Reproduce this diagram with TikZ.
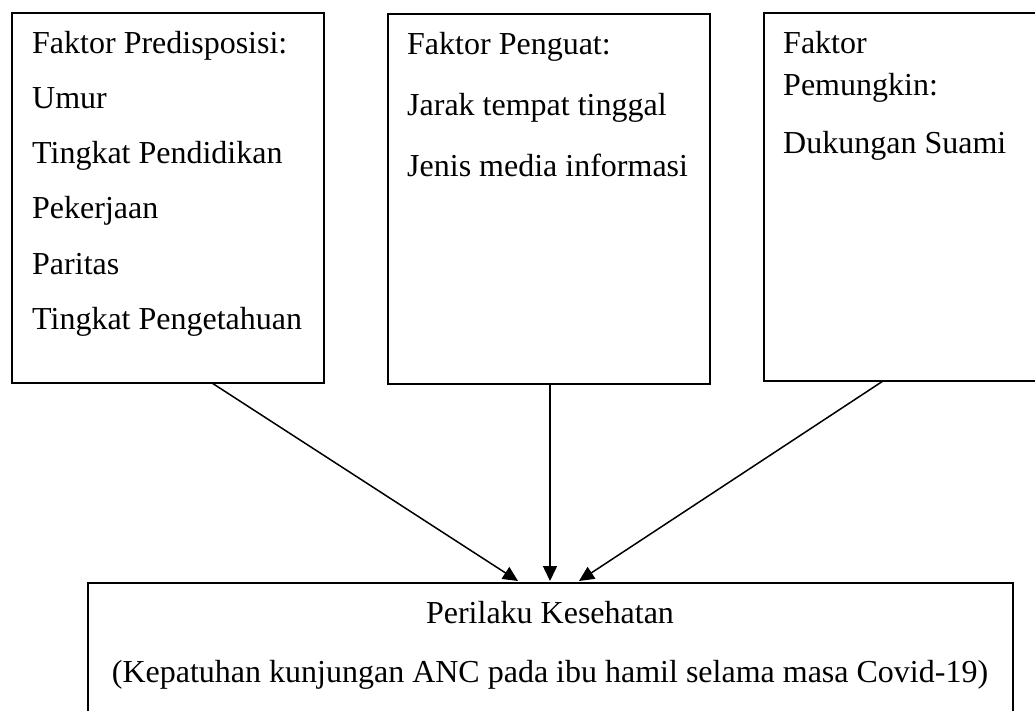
\documentclass[tikz,border=0pt]{standalone}
\usepackage{fontspec}
\setmainfont{Liberation Serif}
\usetikzlibrary{arrows.meta}
\begin{document}
\begin{tikzpicture}[x=1pt,y=-1pt,
  box/.style={draw=black,line width=2pt,rectangle,inner sep=0pt,anchor=north west},
  txt/.style={inner sep=0pt,anchor=base west,font=\fontsize{32}{38}\selectfont},
  ctxt/.style={inner sep=0pt,anchor=base,font=\fontsize{32}{38}\selectfont},
  conn/.style={line width=1.5pt,-{Triangle[length=15pt,width=14pt]}}]
\useasboundingbox (0,0) rectangle (1035,710);
\clip (0,0) rectangle (1035,710);
\fill[white] (0,0) rectangle (1035,710);
% boxes
\node[box,minimum width=312pt,minimum height=370pt] (b1) at (11,12) {};
\node[box,minimum width=322pt,minimum height=370pt] (b2) at (387,13) {};
\node[box,minimum width=290pt,minimum height=368pt] (b3) at (763,12) {};
\node[box,minimum width=925pt,minimum height=150pt] (b4) at (87,582) {};
% box 1 text
\node[txt] (t11) at (32,53) {Faktor Predisposisi:};
\node[txt] (t12) at (32,108) {Umur};
\node[txt] (t13) at (32,163) {Tingkat Pendidikan};
\node[txt] (t14) at (32,218) {Pekerjaan};
\node[txt] (t15) at (32,274) {Paritas};
\node[txt] (t16) at (32,329) {Tingkat Pengetahuan};
% box 2 text
\node[txt] (t21) at (407,54) {Faktor Penguat:};
\node[txt] (t22) at (407,115) {Jarak tempat tinggal};
\node[txt] (t23) at (407,176) {Jenis media informasi};
% box 3 text
\node[txt] (t31) at (783,53) {Faktor};
\node[txt] (t32) at (783,95) {Pemungkin:};
\node[txt] (t33) at (783,153) {Dukungan Suami};
% bottom text
\node[ctxt] (t41) at (550,623) {Perilaku Kesehatan};
\node[ctxt] (t42) at (550,682) {(Kepatuhan kunjungan ANC pada ibu hamil selama masa Covid-19)};
% connector ends
\coordinate (s1) at (212,383);
\coordinate (s2) at (550,384);
\coordinate (s3) at (883,381);
\coordinate (e1) at (518,581);
\coordinate (e2) at (550,581);
\coordinate (e3) at (579,581);
\draw[conn] (s1) -- (e1);
\draw[conn] (s2) -- (e2);
\draw[conn] (s3) -- (e3);
\end{tikzpicture}
\end{document}
